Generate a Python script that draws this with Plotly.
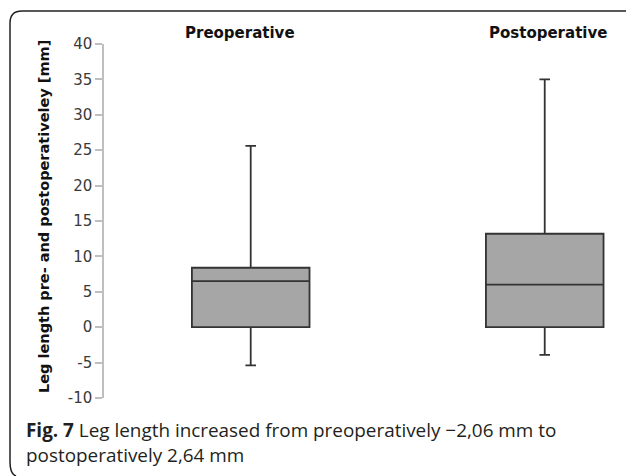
import plotly.graph_objects as go

categories = ["Preoperative", "Postoperative"]
lower_whisker = [-5.4, -3.9]
q1_values = [0.0, 0.0]
median_values = [6.5, 6.0]
q3_values = [8.4, 13.2]
upper_whisker = [25.6, 35.0]
y_tick_values = [-10, -5, 0, 5, 10, 15, 20, 25, 30, 35, 40]
y_tick_labels = ["-10", "-5", "0", "5", "10", "15", "20", "25", "30", "35", "40"]

W, H = 627, 476
L, R, T, B = 104, 7, 44, 78
PW, PH = W - L - R, H - T - B

def px(x):
    return (x - L) / PW

def py(y):
    return (H - B - y) / PH

fig = go.Figure()
for i, cat in enumerate(categories):
    fig.add_trace(go.Box(
        x=[cat],
        q1=[q1_values[i]], median=[median_values[i]], q3=[q3_values[i]],
        lowerfence=[lower_whisker[i]], upperfence=[upper_whisker[i]],
        width=0.4, whiskerwidth=0.09,
        fillcolor="#A6A6A6",
        line=dict(color="#333333", width=1.8),
        boxpoints=False, hoverinfo="skip", showlegend=False,
    ))

fig.update_layout(
    width=W, height=H,
    margin=dict(l=L, r=R, t=T, b=B),
    paper_bgcolor="white", plot_bgcolor="white",
    font=dict(family="DejaVu Sans, sans-serif"),
    xaxis=dict(type="category", categoryarray=categories, range=[-0.499, 1.256],
               showticklabels=False, ticks="", showline=False, showgrid=False, zeroline=False),
    yaxis=dict(range=[-10, 40], tickvals=y_tick_values, ticktext=y_tick_labels,
               ticks="outside", ticklen=7,
               tickcolor="#BFBFBF", tickwidth=1.5, showline=True, linecolor="#BFBFBF", linewidth=1.5,
               showgrid=False, zeroline=False,
               tickfont=dict(size=15, color="#3a3a3a", family="DejaVu Sans, sans-serif")),
)

# category labels on top
label_x = [240, 547.5]
for i, cat in enumerate(categories):
    fig.add_annotation(text="<b>" + cat + "</b>", x=px(label_x[i]), y=py(33), xref="paper", yref="paper",
                       showarrow=False, xanchor="center", yanchor="middle",
                       font=dict(size=15, color="#111111", family="DejaVu Sans, sans-serif"))

# y axis title
fig.add_annotation(text="<b>Leg length pre- and postoperativeley [mm]</b>", x=px(44), y=py(217),
                   xref="paper", yref="paper", showarrow=False, textangle=-90,
                   xanchor="center", yanchor="middle",
                   font=dict(size=14.5, color="#111111", family="DejaVu Sans, sans-serif"))

# caption
fig.add_annotation(text="<b>Fig. 7</b> Leg length increased from preoperatively \u22122,06 mm to<br>postoperatively 2,64 mm",
                   x=px(24), y=py(415), xref="paper", yref="paper", showarrow=False,
                   xanchor="left", yanchor="top", align="left",
                   font=dict(size=18.9, color="#231F20", family="Open Sans, sans-serif"))

# frame (rounded border, partly cropped)
path = (f"M {px(626)},{py(11)} L {px(22)},{py(11)} Q {px(10)},{py(11)} {px(10)},{py(23)} "
        f"L {px(10)},{py(462)} Q {px(10)},{py(474)} {px(16)},{py(476)}")
fig.add_shape(type="path", path=path, xref="paper", yref="paper",
              line=dict(color="#222222", width=1.5))

fig.write_html("out.html", config={"displayModeBar": False},
               post_script="document.body.style.margin='0';document.body.style.overflow='hidden';")
